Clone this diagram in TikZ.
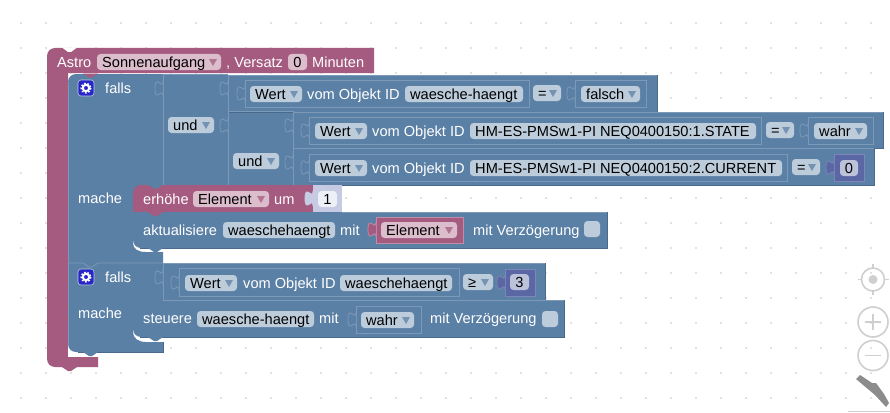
\documentclass[tikz,border=0pt]{standalone}
\usepackage{fontspec}
\setmainfont{Liberation Sans}
\definecolor{pk}{HTML}{A55B80}
\definecolor{pkl}{HTML}{C08CA6}
\definecolor{pkf}{HTML}{DBBDCC}
\definecolor{bl}{HTML}{5B80A5}
\definecolor{bll}{HTML}{7C99B8}
\definecolor{bld}{HTML}{4A6A8C}
\definecolor{blf}{HTML}{BDCCDB}
\definecolor{nm}{HTML}{5B67A5}
\definecolor{nml}{HTML}{7C86B8}
\definecolor{nmf}{HTML}{BDC2DB}
\definecolor{nmp}{HTML}{C6CAE2}
\definecolor{nmw}{HTML}{EEF0F8}
\definecolor{gr}{HTML}{CFCFCF}
\tikzset{
  lab/.style={anchor=base west,inner sep=0pt,text=white,font=\fontsize{14.6}{14.6}\selectfont},
  ftxt/.style={anchor=base west,inner sep=0pt,text=black,font=\fontsize{14.6}{14.6}\selectfont}
}
\newcommand{\blk}[6]{%
  \fill[#5] (#1,#2) rectangle (#3,#4);
  \draw[#6,line width=.8pt] (#1,#4)--(#1,#2)--(#3,#2);
  \draw[bld,line width=.8pt] (#1,#4)--(#3,#4)--(#3,#2);}
\newcommand{\inb}[6]{%
  \fill[#5] (#1,#2) rectangle (#3,#4);
  \draw[#6,line width=.8pt] (#1,#2) rectangle (#3,#4);}
\newcommand{\tabp}[4]{%
  \fill[#3] (#1,#2) .. controls (#1,#2+10) and (#1-8,#2-8) .. (#1-8,#2+7.5)
     .. controls (#1-8,#2+23) and (#1,#2+5) .. (#1,#2+15) -- cycle;
  \draw[#4,line width=.8pt] (#1,#2) .. controls (#1,#2+10) and (#1-8,#2-8) .. (#1-8,#2+7.5)
     .. controls (#1-8,#2+23) and (#1,#2+5) .. (#1,#2+15);}
\newcommand{\notch}[3]{\fill[#3] (#1,#2)--(#1+6,#2+4)--(#1+9,#2+4)--(#1+15,#2)--cycle;}
\newcommand{\tf}[5]{%
  \fill[blf,rounded corners=3.5pt] (#2,#4) rectangle (#3,#4+16);
  \node[ftxt] (#1) at (#2+5,#4+13) {#5};}
\newcommand{\df}[7]{%
  \fill[#7,rounded corners=3.5pt] (#2,#4) rectangle (#3,#4+16);
  \node[ftxt] (#1) at (#2+5,#4+13) {#5};
  \fill[#6!85!white] (#3-12,#4+5) -- (#3-4,#4+5) -- (#3-8,#4+12) -- cycle;}
\newcommand{\cf}[6]{%
  \fill[#6,rounded corners=3.5pt] (#2,#4) rectangle (#3,#4+16);
  \node[ftxt,anchor=base] (#1) at ({(#2+#3)/2},#4+13) {#5};}
\newcommand{\gear}[2]{%
  \fill[blue!75!black!85!white,draw=blf,line width=.6pt,rounded corners=3pt] (#1,#2) rectangle (#1+16,#2+16);
  \draw[white,line width=2pt] (#1+8,#2+8) circle (3.2);
  \draw[white,line width=1.6pt,dash pattern=on 1.6pt off 1.75pt] (#1+8,#2+8) circle (4.8);}
\begin{document}
\begin{tikzpicture}[x=1pt,y=-1pt]
\useasboundingbox (0,0) rectangle (890,412);
\fill[white] (0,0) rectangle (890,412);
\foreach \i in {21,46,...,871} \foreach \j in {23,48,...,398}
  \fill[gray!45] (\i,\j) circle (.8);
% Astro block
\fill[pk,rounded corners=8pt] (47,200)--(47,48)--(100,48)[sharp corners]--(374,48)--(374,73)--(68,73)--(68,357)--(98,357)--(98,367)[rounded corners=8pt]--(47,367)--cycle;
\fill[white] (62,47.5)--(68,52)--(71,52)--(77,47.5)--cycle;
\notch{62}{367}{pk}
\node[lab] (astro) at (57,67) {Astro};
\df{sonne}{97}{221}{54}{Sonnenaufgang}{pk}{pkf}
\node[lab] (versatz) at (226,67) {, Versatz};
\cf{null}{288}{307}{54}{0}{pkf}
\node[lab] (minuten) at (312,67) {Minuten};
\fill[white] (68,343) rectangle (98,357);
% blue if-blocks body
\fill[bl,rounded corners=8pt] (68,200)--(68,74)--(100,74)[sharp corners]--(163,74)--(163,185)--(145,185)--(145,197)--(133,197)
  --(133,243) .. controls (133,249) and (138,252) .. (146,252)--(163,252)--(163,300)--(145,300)--(145,312)--(133,312)
  --(133,332) .. controls (133,338) and (138,342) .. (146,342)--(163,342)--(163,352)[rounded corners=8pt]--(68,352)--cycle;
\draw[bll,line width=.8pt] (68,345)--(68,82);
\draw[bll,line width=.8pt] (68,263)--(83,263)--(89,267)--(92,267)--(98,263)--(163,263);
\draw[bld,line width=.8pt] (163,342)--(163,352)--(78,352);
\notch{83}{352}{bl}
\notch{83}{73.5}{pk}
% rows
\blk{228}{75}{657}{112}{bl}{bll}
\blk{293}{112}{883}{148}{bl}{bll}
\blk{293}{148}{874}{185}{bl}{bll}
\fill[bl] (164,75) rectangle (228,185);
\fill[bl] (229,112.5) rectangle (293,185);
\draw[bll,line width=.8pt] (163,74)--(163,185);
\draw[bll,line width=.8pt] (163,74)--(228,74);
\draw[bll,line width=.8pt] (228,75)--(228,185);
\draw[bll,line width=.8pt] (228,111)--(293,111);
\draw[bll,line width=.8pt] (293,111)--(293,185);
\draw[bll,line width=.8pt] (293,148)--(874,148);
\tabp{163}{81}{bl}{bll}
\tabp{228}{81}{bl}{bll}
\tabp{228}{118}{bl}{bll}
\tabp{293}{118}{bl}{bll}
\tabp{293}{155}{bl}{bll}
\node[lab] (falls1) at (105,93) {falls};
\gear{78}{80}
\node[lab] (mache1) at (78,203) {mache};
\df{und1}{168}{214}{117}{und}{bl}{blf}
\df{und2}{233}{279}{153}{und}{bl}{blf}
% row 1 contents
\inb{245}{80}{529}{107}{bl}{bll}
\tabp{245}{86}{bl}{bll}
\df{wert1}{250}{302}{86}{Wert}{bl}{blf}
\node[lab] (vom1) at (307,99) {vom Objekt ID};
\tf{id1}{405}{523}{86}{waesche-haengt}
\df{eq1}{533}{561}{85}{=}{bl}{blf}
\inb{575}{80}{646}{107}{bl}{bll}
\tabp{575}{86}{bl}{bll}
\df{falsch}{581}{640}{86}{falsch}{bl}{blf}
% row 2 contents
\inb{309}{117}{761}{144}{bl}{bll}
\tabp{309}{123}{bl}{bll}
\df{wert2}{315}{367}{123}{Wert}{bl}{blf}
\node[lab] (vom2) at (372,136) {vom Objekt ID};
\tf{id2}{470}{756}{123}{HM-ES-PMSw1-PI NEQ0400150:1.STATE}
\df{eq2}{766}{794}{122}{=}{bl}{blf}
\inb{808}{117}{873}{144}{bl}{bll}
\tabp{808}{123}{bl}{bll}
\df{wahr1}{814}{867}{123}{wahr}{bl}{blf}
% row 3 contents
\inb{309}{154}{787}{181}{bl}{bll}
\tabp{309}{160}{bl}{bll}
\df{wert3}{315}{367}{160}{Wert}{bl}{blf}
\node[lab] (vom3) at (372,173) {vom Objekt ID};
\tf{id3}{470}{782}{160}{HM-ES-PMSw1-PI NEQ0400150:2.CURRENT}
\df{eq3}{792}{820}{159}{=}{bl}{blf}
\inb{834}{154}{864}{181}{nm}{nml}
\tabp{834}{160}{nm}{nml}
\cf{zero}{840}{858}{160}{0}{nmf}
% erhoehe
\fill[pk,rounded corners=8pt] (133,200)--(133,185)--(150,185)[sharp corners]--(313,185)--(313,212)--(133,212)--cycle;
\notch{148}{184.5}{bl}
\fill[nmp] (313,185) rectangle (342,212);
\tabp{313}{191}{nmp}{nmp}
\cf{eins}{318}{337}{191}{1}{nmw}
\node[lab] (erh) at (143,204) {erhöhe};
\df{elem1}{193}{269}{191}{Element}{pk}{pkf}
\node[lab] (um) at (274,204) {um};
% aktualisiere
\fill[bl] (133,212)--(133,230)[rounded corners=8pt]--(133,248)--(150,248)[sharp corners]--(607,248)--(607,212)--cycle;
\draw[bll,line width=.8pt] (342,212)--(607,212)--(607,248);
\draw[bld,line width=.8pt] (140,248)--(607,248)--(607,212);
\notch{148}{212}{pk}
\notch{148}{248}{bl}
\node[lab] (akt) at (143,235) {aktualisiere};
\tf{wh1}{223}{335}{222}{waeschehaengt}
\node[lab] (mit1) at (340,235) {mit};
\inb{376}{217}{463}{243}{pk}{pkl}
\tabp{376}{222}{pk}{pkl}
\df{elem2}{381}{457}{222}{Element}{pk}{pkf}
\node[lab] (verz1) at (473,235) {mit Verzögerung};
\fill[blf,rounded corners=3.5pt] (584,221) rectangle (600,237);
% falls 2
\blk{163}{263}{545}{300}{bl}{bll}
\draw[bll,line width=.8pt] (163,263)--(163,300);
\tabp{163}{270}{bl}{bll}
\gear{78}{269}
\node[lab] (falls2) at (105,282) {falls};
\inb{179}{268}{459}{296}{bl}{bll}
\tabp{179}{275}{bl}{bll}
\df{wert4}{185}{237}{275}{Wert}{bl}{blf}
\node[lab] (vom4) at (243,288) {vom Objekt ID};
\tf{wh2}{340}{452}{275}{waeschehaengt}
\df{geq}{463}{493}{274}{≥}{bl}{blf}
\inb{505}{269}{535}{296}{nm}{nml}
\tabp{505}{275}{nm}{nml}
\cf{drei}{510}{529}{274}{3}{nmf}
\node[lab] (mache2) at (78,318) {mache};
% steuere
\fill[bl] (133,320)[rounded corners=8pt]--(133,300)--(150,300)[sharp corners]--(564,300)--(564,337)[rounded corners=8pt]--(133,337)[sharp corners]--cycle;
\draw[bll,line width=.8pt] (163,300)--(564,300)--(564,337);
\draw[bld,line width=.8pt] (140,337)--(564,337)--(564,300);
\notch{148}{337}{bl}
\notch{148}{299.5}{bl}
\node[lab] (st) at (143,323) {steuere};
\tf{wh3}{197}{314}{311}{waesche-haengt}
\node[lab] (mit2) at (319,323) {mit};
\inb{356}{306}{421}{333}{bl}{bll}
\tabp{356}{312}{bl}{bll}
\df{wahr2}{361}{414}{312}{wahr}{bl}{blf}
\node[lab] (verz2) at (430,323) {mit Verzögerung};
\fill[blf,rounded corners=3.5pt] (542,311) rectangle (558,327);
% controls
\draw[gr,line width=1.6pt] (873,279.5) circle (11.5);
\fill[gr] (873,279.5) circle (4.5);
\draw[gr,line width=1.6pt] (873,264)--(873,268) (873,291)--(873,295) (857.5,279.5)--(861.5,279.5) (884.5,279.5)--(888.5,279.5);
\draw[gr,line width=1.6pt] (873,322) circle (15);
\draw[gr,line width=1.6pt] (865,322)--(881,322) (873,314)--(873,330);
\draw[gr,line width=1.6pt] (873,355.5) circle (15);
\draw[gr,line width=1.6pt] (865,355.5)--(881,355.5);
\fill[gray!90] (860,375)--(872,383)--(876,383)--(884,394)--(889,403)--(886,407)--(875,395)--(856,379)--cycle;
\draw[gr,line width=.8pt] (848,411)--(890,411);
\end{tikzpicture}
\end{document}
